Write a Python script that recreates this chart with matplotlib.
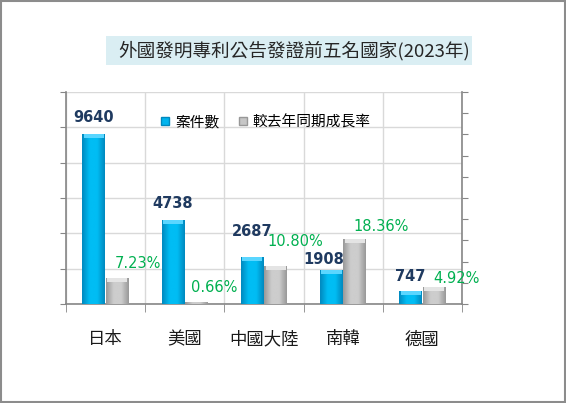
import numpy as np
import matplotlib
matplotlib.use('Agg')
import matplotlib.pyplot as plt
from matplotlib.patches import Rectangle, Patch
from matplotlib.colors import LinearSegmentedColormap

plt.rcParams['font.family'] = ['Noto Sans CJK TC', 'DejaVu Sans']

# Data
countries = ['日本', '美國', '中國大陸', '南韓', '德國']
cases = [9640, 4738, 2687, 1908, 747]
growth = [7.23, 0.66, 10.80, 18.36, 4.92]
series_names = ['案件數', '較去年同期成長率']
title = '外國發明專利公告發證前五名國家(2023年)'

# label centre offsets in pixels (manual placement like in the original chart)
case_offsets = [(0, 16), (0, 17), (0, 25), (-8, 11), (0, 14)]
growth_offsets = [(21, 15), (18, 14), (20, 24), (26, 13), (22, 8)]

fig = plt.figure(figsize=(5.66, 4.03), dpi=100)

# outer border
fig.patches.append(Rectangle((0.002, 0.003), 0.996, 0.994, transform=fig.transFigure,
                             fill=False, edgecolor='#8c8c8c', linewidth=1.5))

# title box
fig.patches.append(Rectangle((106 / 566, 1 - 65 / 403), 366 / 566, 29 / 403,
                             transform=fig.transFigure, facecolor='#DAEEF3', edgecolor='none'))
fig.text(294 / 566, 1 - 50.5 / 403, title, ha='center', va='center', fontsize=13.4, color='#262626')

ax = fig.add_axes([66 / 566, 99 / 403, 396 / 566, 212 / 403])
ax2 = ax.twinx()

x = np.arange(len(countries))
w = 0.29
b1 = ax.bar(x - 0.148, cases, width=w, color='#00B4EE', zorder=3)
b2 = ax2.bar(x + 0.148, growth, width=w, color='#C6C6C6', zorder=3)

ax.set_xlim(-0.5, len(countries) - 0.5)
ax.set_ylim(0, 12000)
ax2.set_ylim(0, 60)
ax.set_yticks(np.arange(0, 12001, 2000))
ax2.set_yticks(np.linspace(0, 60, 11))
ax.set_yticklabels([])
ax2.set_yticklabels([])

# shading for 3D look
def shade(axis, bars, edge, mid, top):
    cmap = LinearSegmentedColormap.from_list('s', [edge, mid, mid, edge])
    grad = np.linspace(0, 1, 64).reshape(1, -1)
    lo, hi = axis.get_ylim()
    bev = 4 * (hi - lo) / 212
    for p in bars:
        x0, y0 = p.get_x(), p.get_y()
        pw, ph = p.get_width(), p.get_height()
        im = axis.imshow(grad, extent=[x0, x0 + pw, y0, y0 + ph], cmap=cmap,
                         aspect='auto', zorder=3.5, interpolation='bicubic')
        im.set_clip_path(p)
        if ph > bev:
            axis.add_patch(Rectangle((x0 + pw * 0.06, y0 + ph - bev), pw * 0.88, bev,
                                     facecolor=top, edgecolor='none', zorder=3.6))

shade(ax, b1, '#0088BE', '#00BDF4', '#5AD6FF')
shade(ax2, b2, '#989898', '#CDCDCD', '#E4E4E4')

ax.set_xlim(-0.5, len(countries) - 0.5)
ax.set_ylim(0, 12000)
ax2.set_ylim(0, 60)

# x ticks at category boundaries, labels at centres
ax.set_xticks(x)
ax.set_xticklabels(countries, fontsize=12.5, color='#1a1a1a')
ax.set_xticks(np.arange(-0.5, len(countries)), minor=True)
ax.tick_params(axis='x', which='major', length=0, pad=19)
ax.tick_params(axis='x', which='minor', length=6, color='#868686', direction='out')
ax.tick_params(axis='y', length=4, color='#868686')
ax2.tick_params(axis='y', length=4, color='#868686')

ax.grid(True, which='minor', axis='x', color='#D9D9D9', linewidth=1, zorder=0)
ax.grid(True, which='major', axis='y', color='#D9D9D9', linewidth=1, zorder=0)
ax.set_axisbelow(True)

for a in (ax, ax2):
    a.spines['top'].set_visible(False)
    for s in ('left', 'right', 'bottom'):
        a.spines[s].set_color('#868686')
        a.spines[s].set_linewidth(1.2)
ax.spines['right'].set_visible(False)
ax2.spines['left'].set_visible(False)
ax2.spines['bottom'].set_visible(False)

# value labels (drawn on ax2 so they sit above both bar series)
for p, v, off in zip(b1, cases, case_offsets):
    ax2.annotate(f'{v}', (p.get_x() + p.get_width() / 2, p.get_height()),
                 xycoords=ax.transData,
                 xytext=(off[0] * 0.72, off[1] * 0.72), textcoords='offset points',
                 ha='center', va='center', fontsize=10.5, fontweight='bold',
                 color='#1F3A60', family='DejaVu Sans', zorder=6)
for p, v, off in zip(b2, growth, growth_offsets):
    ax2.annotate(f'{v:.2f}%', (p.get_x() + p.get_width() / 2, p.get_height()),
                 xytext=(off[0] * 0.72, off[1] * 0.72), textcoords='offset points',
                 ha='center', va='center', fontsize=10.5, color='#00B050',
                 family='DejaVu Sans', zorder=6)

handles = [Patch(facecolor='#00B4EE', edgecolor='#0088BE'),
           Patch(facecolor='#C6C6C6', edgecolor='#989898')]
ax2.legend(handles, series_names, loc='center', bbox_to_anchor=(0.505, 0.858), ncol=2,
           frameon=False, fontsize=10.6, handlelength=0.55, handleheight=0.55,
           handletextpad=0.4, columnspacing=1.3)

fig.savefig('out.png', dpi=100)
